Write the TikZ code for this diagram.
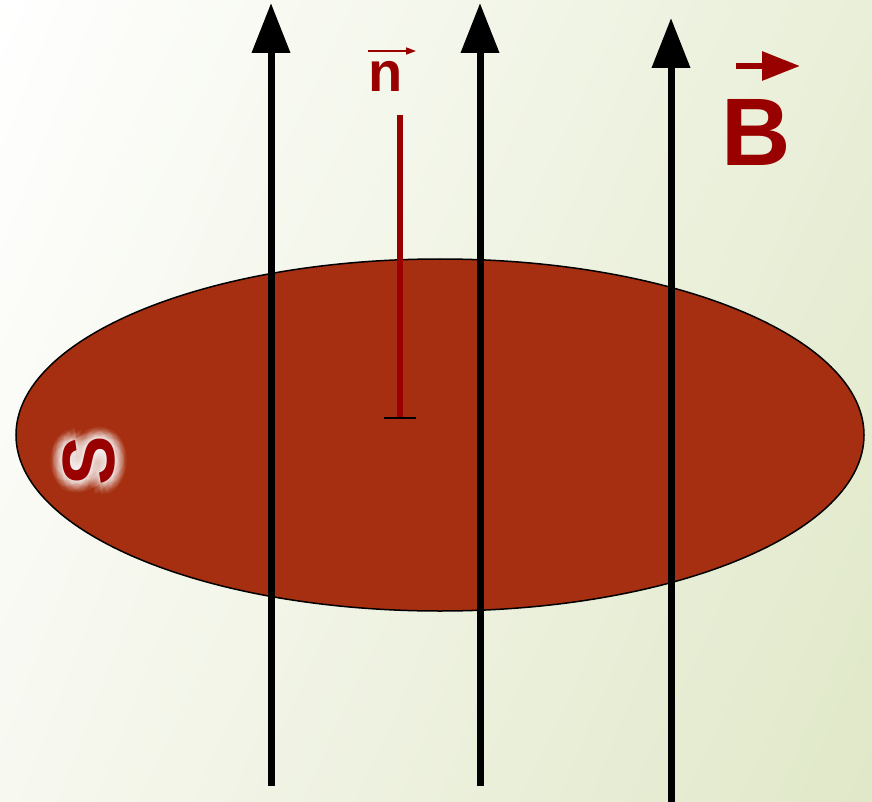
\documentclass[tikz,border=0pt]{standalone}
\usepackage{fontspec}
\setmainfont{Liberation Sans}
\usetikzlibrary{arrows.meta,shapes.geometric,shadings,calc}
\definecolor{bgUL}{HTML}{FFFFFF}
\definecolor{bgUR}{HTML}{E9EFD8}
\definecolor{bgLL}{HTML}{F7F8F0}
\definecolor{bgLR}{HTML}{E0E8C8}
\definecolor{disk}{HTML}{A52F10}
\definecolor{dred}{HTML}{990000}
\tikzset{
  fieldline/.style={line width=7pt,black,-{Triangle[width=37pt,length=50pt]}},
  vecarrow/.style={dred,line width=6pt,-{Triangle[width=28pt,length=38pt]}},
  smallvec/.style={dred,line width=1.6pt,-{Triangle[width=7pt,length=10pt]}},
  lbl/.style={text=dred,font=\bfseries,inner sep=0pt},
  sfont/.style={font=\bfseries\fontsize{74}{74}\selectfont,rotate=90,inner sep=0pt}
}
\begin{document}
\begin{tikzpicture}[x=1pt,y=-1pt]
\useasboundingbox (0,0) rectangle (872,802);
\shade[upper left=bgUL,upper right=bgUR,lower left=bgLL,lower right=bgLR] (0,0) rectangle (872,802);
% surface
\node[ellipse,draw=black,line width=1.5pt,fill=disk,minimum width=848pt,minimum height=352pt,inner sep=0pt] (surf) at (440,435) {};
% glow behind S
\foreach \r in {2,4,6,8,10,12}{
  \foreach \a in {0,30,...,330}{
    \node[sfont,text=white,text opacity=0.07] at ($(89,461)+(\a:\r)$) {S};
  }
}
\node[lbl,sfont,text=dred] (S) at (89,461) {S};
% normal vector
\coordinate (nbase) at (400,418);
\coordinate (ntop) at (400,115);
\draw[dred,line width=6pt] (nbase) -- (ntop);
\coordinate (tl) at (384,418);
\coordinate (tr) at (416,418);
\draw[black,line width=2pt] (tl) -- (tr);
\node[lbl,font=\bfseries\fontsize{56}{56}\selectfont] (n) at (386,76) {n};
\coordinate (na) at (368,51);
\coordinate (nb) at (416,51);
\draw[smallvec] (na) -- (nb);
% field lines
\coordinate (a1s) at (271,786);
\coordinate (a1e) at (271,3);
\coordinate (a2s) at (480,786);
\coordinate (a2e) at (480,3);
\coordinate (a3s) at (671,802);
\coordinate (a3e) at (671,18);
\draw[fieldline] (a1s) -- (a1e);
\draw[fieldline] (a2s) -- (a2e);
\draw[fieldline] (a3s) -- (a3e);
% B label
\node[lbl,font=\bfseries\fontsize{96}{96}\selectfont] (B) at (756,132) {B};
\coordinate (ba) at (736,66);
\coordinate (bb) at (800,66);
\draw[vecarrow] (ba) -- (bb);
\end{tikzpicture}
\end{document}
